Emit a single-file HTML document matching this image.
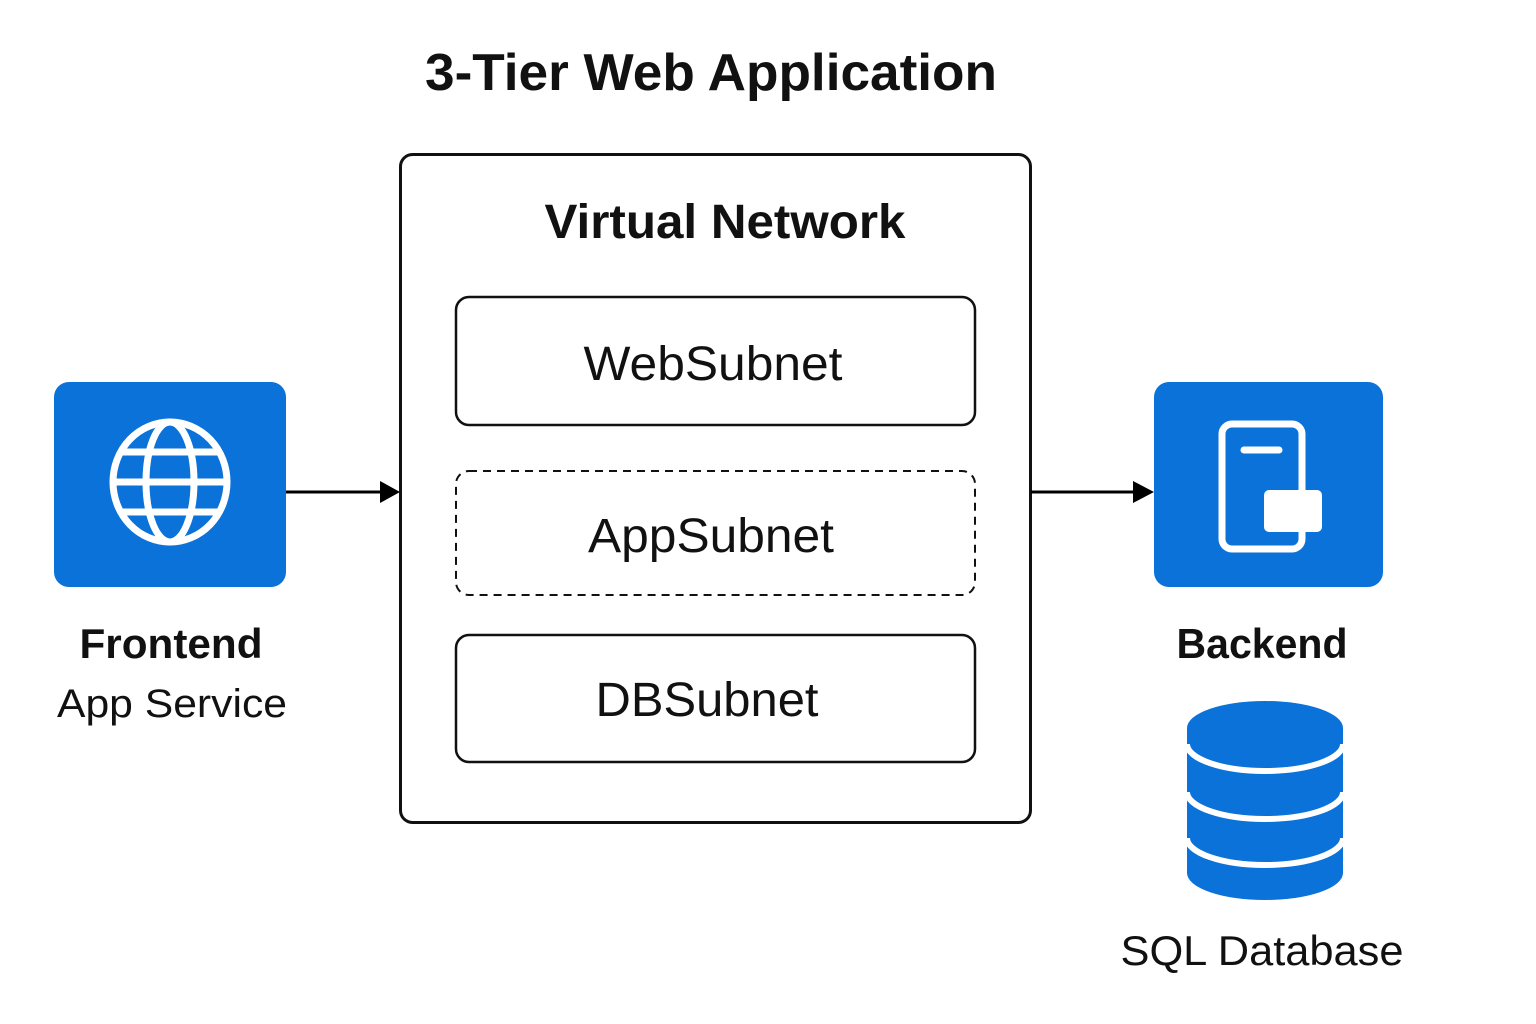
<!DOCTYPE html>
<html><head><meta charset="utf-8"><style>html,body{margin:0;padding:0;background:#fff;}svg{display:block;}</style></head>
<body>
<svg width="1536" height="1024" viewBox="0 0 1536 1024" xmlns="http://www.w3.org/2000/svg" font-family="Liberation Sans, DejaVu Sans, sans-serif">
<rect width="1536" height="1024" fill="#fff"/>
<text x="711" y="90" font-size="52" font-weight="bold" text-anchor="middle" fill="#111" textLength="572" lengthAdjust="spacingAndGlyphs">3-Tier Web Application</text>
<rect x="400.5" y="154.5" width="630" height="668" rx="12" fill="none" stroke="#111" stroke-width="3"/>
<text x="725" y="238" font-size="48" font-weight="bold" text-anchor="middle" fill="#111" textLength="361" lengthAdjust="spacingAndGlyphs">Virtual Network</text>
<rect x="456" y="297" width="519" height="128" rx="13" fill="none" stroke="#111" stroke-width="2.5"/>
<text x="713" y="380" font-size="48" text-anchor="middle" fill="#111" textLength="259" lengthAdjust="spacingAndGlyphs">WebSubnet</text>
<rect x="456" y="471" width="519" height="124" rx="13" fill="none" stroke="#111" stroke-width="2" stroke-dasharray="8 6"/>
<text x="711" y="552" font-size="48" text-anchor="middle" fill="#111" textLength="246" lengthAdjust="spacingAndGlyphs">AppSubnet</text>
<rect x="456" y="635" width="519" height="127" rx="13" fill="none" stroke="#111" stroke-width="2.5"/>
<text x="707" y="716" font-size="48" text-anchor="middle" fill="#111" textLength="223" lengthAdjust="spacingAndGlyphs">DBSubnet</text>
<line x1="286" y1="492" x2="382" y2="492" stroke="#000" stroke-width="3"/>
<polygon points="380,481 400,492 380,503" fill="#000"/>
<line x1="1031" y1="492" x2="1136" y2="492" stroke="#000" stroke-width="3"/>
<polygon points="1133,481 1154,492 1133,503" fill="#000"/>
<rect x="54" y="382" width="232" height="205" rx="15" fill="#0A72D8"/>
<g fill="none" stroke="#fff" stroke-width="7">
<ellipse cx="170" cy="482" rx="57" ry="60"/>
<ellipse cx="170" cy="482" rx="24" ry="60"/>
<line x1="113" y1="482" x2="227" y2="482"/>
<line x1="122" y1="452" x2="218" y2="452"/>
<line x1="122" y1="512" x2="218" y2="512"/>
</g>
<text x="171" y="658" font-size="42" font-weight="bold" text-anchor="middle" fill="#111" textLength="183" lengthAdjust="spacingAndGlyphs">Frontend</text>
<text x="172" y="717" font-size="40" text-anchor="middle" fill="#111" textLength="230" lengthAdjust="spacingAndGlyphs">App Service</text>
<rect x="1154" y="382" width="229" height="205" rx="15" fill="#0A72D8"/>
<rect x="1222" y="424" width="80" height="125" rx="10" fill="none" stroke="#fff" stroke-width="7"/>
<line x1="1244" y1="450" x2="1279" y2="450" stroke="#fff" stroke-width="7" stroke-linecap="round"/>
<rect x="1264" y="490" width="58" height="42" rx="5" fill="#fff"/>
<text x="1262" y="658" font-size="42" font-weight="bold" text-anchor="middle" fill="#111" textLength="171" lengthAdjust="spacingAndGlyphs">Backend</text>
<path d="M1187,728 L1187,873 A78,27 0 0 0 1343,873 L1343,728 Z" fill="#0A72D8"/>
<ellipse cx="1265" cy="728" rx="78" ry="27" fill="#0A72D8"/>
<g fill="none" stroke="#fff" stroke-width="6">
<path d="M1187,744 A78,27 0 0 0 1343,744"/>
<path d="M1187,792 A78,27 0 0 0 1343,792"/>
<path d="M1187,838 A78,27 0 0 0 1343,838"/>
</g>
<text x="1262" y="965" font-size="42" text-anchor="middle" fill="#111" textLength="283" lengthAdjust="spacingAndGlyphs">SQL Database</text>
</svg>
</body></html>
